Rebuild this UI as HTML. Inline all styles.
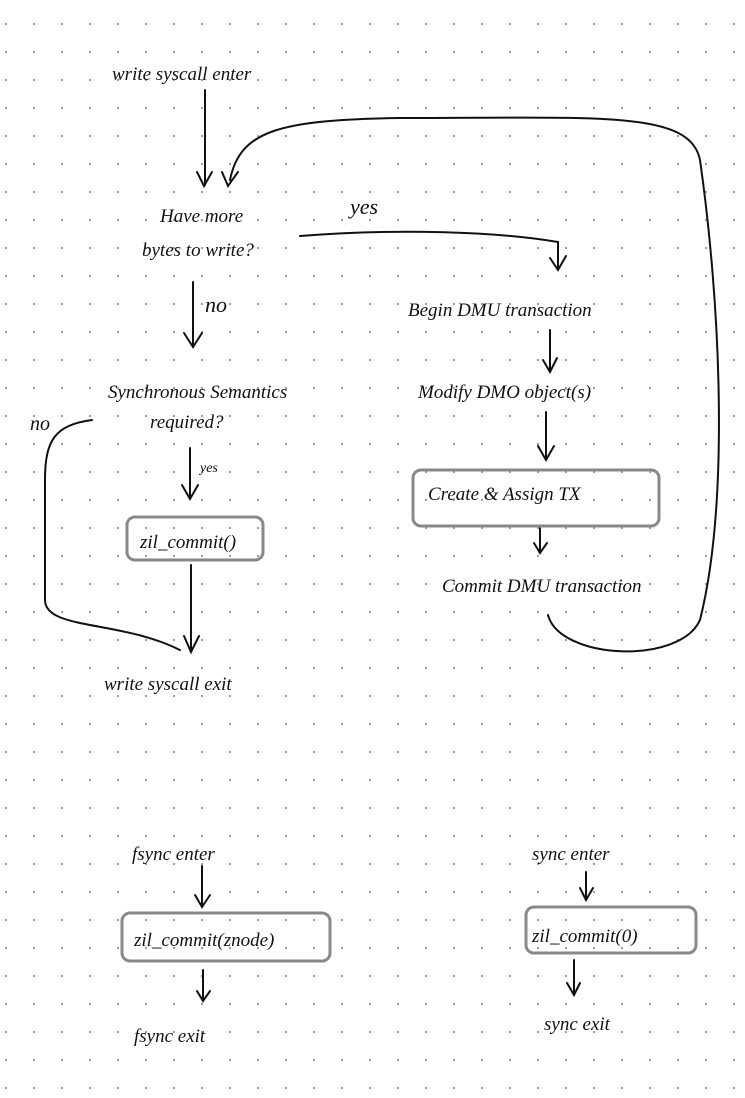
<!DOCTYPE html>
<html><head><meta charset="utf-8"><style>
html,body{margin:0;padding:0}
body{width:745px;height:1098px;background-color:#fff;background-image:radial-gradient(circle,#999 1px,transparent 1.3px);background-size:28px 28px;background-position:-8px 10px;position:relative;overflow:hidden}
svg{position:absolute;left:0;top:0}
text{font-family:"Liberation Serif",serif;font-style:italic;fill:#111}
</style></head><body>
<svg width="745" height="1098" viewBox="0 0 745 1098" fill="none" stroke="#111" stroke-width="2" stroke-linecap="round">
<g stroke="none" font-size="19">
<text x="112" y="80">write syscall enter</text>
<text x="160" y="222">Have more</text>
<text x="142" y="256">bytes to write?</text>
<text x="350" y="214" font-size="22">yes</text>
<text x="205" y="312" font-size="22">no</text>
<text x="408" y="316">Begin DMU transaction</text>
<text x="418" y="398">Modify DMO object(s)</text>
<text x="428" y="500">Create &amp; Assign TX</text>
<text x="442" y="592">Commit DMU transaction</text>
<text x="108" y="398">Synchronous Semantics</text>
<text x="150" y="428">required?</text>
<text x="30" y="430" font-size="20">no</text>
<text x="200" y="472" font-size="14">yes</text>
<text x="140" y="548">zil_commit()</text>
<text x="104" y="690">write syscall exit</text>
<text x="132" y="860">fsync enter</text>
<text x="134" y="946">zil_commit(znode)</text>
<text x="134" y="1042">fsync exit</text>
<text x="532" y="860">sync enter</text>
<text x="532" y="942">zil_commit(0)</text>
<text x="544" y="1030">sync exit</text>
</g>
<!-- arrows -->
<path d="M205 90 L205 185 M197 172 L204 186 L212 172"/>
<path d="M300 236 C400 228 500 232 558 242 L558 268 M550 258 L558 270 L566 256"/>
<path d="M193 282 L193 345 M184 333 L193 347 L202 333"/>
<path d="M550 330 L550 370 M543 360 L550 372 L557 358"/>
<path d="M546 412 L546 458 M538 446 L546 460 L554 446"/>
<path d="M540 528 L540 552 M534 543 L540 553 L547 543"/>
<path d="M190 448 L190 497 M182 485 L190 499 L198 485"/>
<path d="M191 565 L191 650 M184 636 L191 652 L199 636"/>
<path d="M92 420 C55 425 45 440 45 480 L45 600 C45 630 120 620 180 650"/>
<path d="M548 615 C560 660 680 665 700 620 C730 500 720 300 700 160 C690 110 600 118 400 118 C280 120 240 130 230 180 M222 172 L228 186 L238 172"/>
<path d="M202 866 L202 905 M195 895 L202 907 L210 895"/>
<path d="M203 970 L203 1000 M197 991 L203 1001 L210 991"/>
<path d="M586 872 L586 898 M580 888 L586 900 L593 888"/>
<path d="M574 960 L574 994 M567 983 L574 995 L580 983"/>
<!-- boxes -->
<g stroke="#888" stroke-width="3">
<rect x="127" y="517" width="136" height="43" rx="8"/>
<rect x="413" y="470" width="246" height="56" rx="8"/>
<rect x="122" y="913" width="208" height="48" rx="8"/>
<rect x="526" y="907" width="170" height="46" rx="8"/>
</g>
</svg>
</body></html>
